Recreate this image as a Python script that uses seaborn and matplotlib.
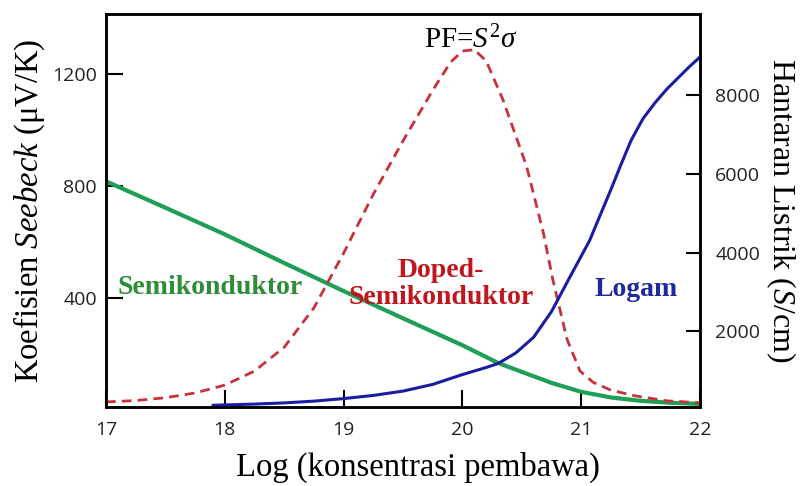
import matplotlib
matplotlib.use("Agg")
import matplotlib.pyplot as plt
import seaborn as sns
import pandas as pd

# ---- data ----
semi_x = [17.0, 17.5, 18.0, 18.5, 19.0, 19.5, 20.0, 20.3, 20.5, 20.75, 21.0, 21.25, 21.5, 21.75, 22.0]
semi_y = [816, 722, 627, 525, 425, 328, 232, 169, 137, 98, 66, 46, 34, 27, 23]

pf_x = [17.0, 17.25, 17.5, 17.75, 18.0, 18.25, 18.5, 18.75, 19.0, 19.25, 19.5, 19.75, 19.9, 20.0,
        20.1, 20.2, 20.34, 20.54, 20.68, 20.76, 20.88, 20.99, 21.1, 21.25, 21.45, 21.72, 22.0]
pf_y = [30, 35, 45, 62, 90, 140, 225, 365, 560, 770, 960, 1140, 1240, 1280,
        1285, 1245, 1108, 870, 635, 468, 254, 140, 100, 72, 52, 34, 27]

metal_x = [17.9, 18.25, 18.5, 18.75, 19.0, 19.25, 19.5, 19.75, 20.0, 20.2, 20.3, 20.45, 20.6, 20.75,
           20.9, 21.07, 21.16, 21.25, 21.33, 21.42, 21.52, 21.62, 21.72, 21.82, 21.91, 22.0]
metal_y = [120, 150, 180, 225, 290, 370, 480, 650, 900, 1080, 1180, 1450, 1850, 2500,
           3350, 4300, 4950, 5600, 6200, 6850, 7400, 7800, 8150, 8450, 8720, 8966]

x_ticks = [17, 18, 19, 20, 21, 22]
left_ticks = [400, 800, 1200]
right_ticks = [2000, 4000, 6000, 8000]

xlabel = "Log (konsentrasi pembawa)"
ylabel_left = r"Koefisien $\mathit{Seebeck}$ (μV/K)"
ylabel_right = r"Hantaran Listrik ($\mathit{S}$/cm)"

sns.set_theme(style="white")
plt.rcParams["font.family"] = ["Open Sans", "DejaVu Sans"]
plt.rcParams["mathtext.fontset"] = "custom"
plt.rcParams["mathtext.rm"] = "Liberation Serif"
plt.rcParams["mathtext.it"] = "Liberation Serif:italic"
plt.rcParams["mathtext.bf"] = "Liberation Serif:bold"

fig = plt.figure(figsize=(8.02, 4.86), dpi=100)
ax = fig.add_axes([106 / 802, 1 - 407 / 486, 594 / 802, 393 / 486])
ax2 = ax.twinx()

df_semi = pd.DataFrame({"x": semi_x, "y": semi_y})
df_pf = pd.DataFrame({"x": pf_x, "y": pf_y})
df_metal = pd.DataFrame({"x": metal_x, "y": metal_y})

sns.lineplot(data=df_semi, x="x", y="y", ax=ax, color="#1f9e55", linewidth=3.0, sort=False)
sns.lineplot(data=df_pf, x="x", y="y", ax=ax, color="#c8303c", linewidth=2.0, sort=False,
             linestyle=(0, (3.5, 2.2)))
sns.lineplot(data=df_metal, x="x", y="y", ax=ax2, color="#1c1ca3", linewidth=2.2, sort=False)

ax.set_xlim(17, 22)
ax.set_ylim(12, 1412)
ax2.set_ylim(76, 10060)

ax.set_xticks(x_ticks)
ax.set_yticks(left_ticks)
ax2.set_yticks(right_ticks)

for a in (ax, ax2):
    for s in a.spines.values():
        s.set_color("black")
        s.set_linewidth(1.8)
    a.grid(False)

ax.tick_params(axis="x", direction="in", length=12, width=1.5, pad=10, labelsize=14, colors="black",
               bottom=True)
ax.tick_params(axis="y", direction="in", length=12, width=1.5, pad=6.5, labelsize=14, colors="black",
               left=True)
ax2.tick_params(axis="y", direction="in", length=10, width=1.5, pad=11, labelsize=14, colors="black",
                right=True)
for lab in ax.get_xticklabels() + ax.get_yticklabels() + ax2.get_yticklabels():
    lab.set_color("#222222")

serif = ["Liberation Serif", "DejaVu Serif"]
ax.set_xlabel(xlabel, family=serif, fontsize=23.5, color="black")
ax.xaxis.set_label_coords(0.525, -0.115)
ax.set_ylabel(ylabel_left, family=serif, fontsize=23.5, color="black")
ax.yaxis.set_label_coords(-0.10, 0.5)
ax2.set_ylabel(ylabel_right, family=serif, fontsize=23, color="black", rotation=270)
ax2.yaxis.set_label_coords(1.165, 0.5)

ax.text(17.88, 439, "Semikonduktor", family=serif, fontweight="bold", fontsize=20,
        color="#2f8d3a", ha="center", va="center")
ax.text(19.82, 450, "Doped-\nSemikonduktor", family=serif, fontweight="bold", fontsize=20,
        color="#c0161e", ha="center", va="center", linespacing=1.12)
ax.text(21.46, 430, "Logam", family=serif, fontweight="bold", fontsize=20,
        color="#1f2a9a", ha="center", va="center")
ax.text(20.07, 1318, r"PF=$S^2\sigma$", family=serif, fontsize=21, color="black",
        ha="center", va="center")

fig.savefig("out.png", dpi=100)
